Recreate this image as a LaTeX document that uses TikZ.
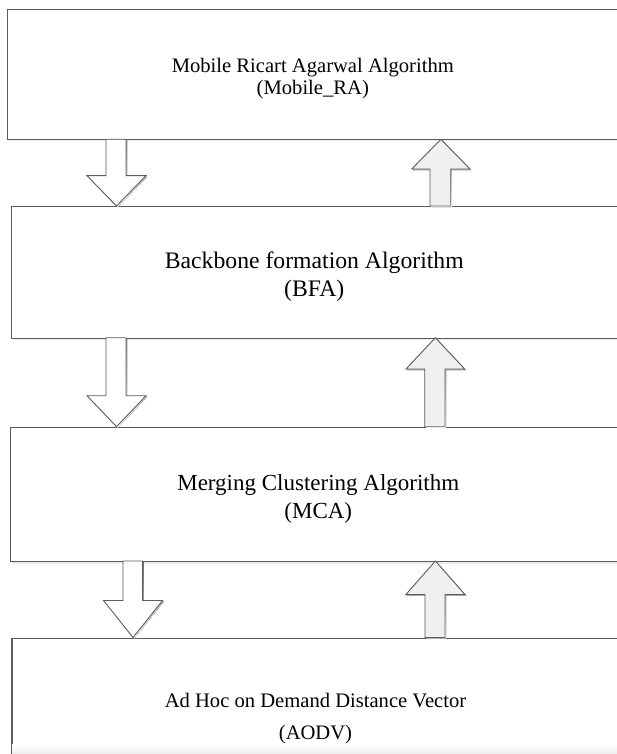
\documentclass[tikz,border=0pt]{standalone}
\usepackage{fontspec}
\setmainfont{Liberation Serif}
\definecolor{edge}{HTML}{5C5C5C}
\definecolor{upfill}{HTML}{F0F0F0}
\definecolor{shade}{HTML}{ECECEC}

% block arrow pointing down: shaft x0..x1, head x2..x3, top y, head base y, tip y
\newcommand\blockdown[7]{%
  \fill[shade] ({#1+1.2},{#5+1.2}) -- ({#2+1.2},{#5+1.2}) -- ({#2+1.2},{#6+1.2}) -- ({#4+1.2},{#6+1.2})
     -- ({(#3+#4)/2+1.2},{#7+1.2}) -- ({#3+1.2},{#6+1.2}) -- ({#1+1.2},{#6+1.2}) -- cycle;
  \draw[arrowline, fill=white] (#1,#5) -- (#2,#5) -- (#2,#6) -- (#4,#6)
     -- ({(#3+#4)/2},#7) -- (#3,#6) -- (#1,#6) -- cycle;}
% block arrow pointing up: shaft x0..x1, head x2..x3, bottom y, head base y, tip y
\newcommand\blockup[7]{%
  \fill[shade] ({#1+1.2},{#5+1.2}) -- ({#2+1.2},{#5+1.2}) -- ({#2+1.2},{#6+1.2}) -- ({#4+1.2},{#6+1.2})
     -- ({(#3+#4)/2+1.2},{#7+1.2}) -- ({#3+1.2},{#6+1.2}) -- ({#1+1.2},{#6+1.2}) -- cycle;
  \draw[arrowline, fill=upfill] (#1,#5) -- (#2,#5) -- (#2,#6) -- (#4,#6)
     -- ({(#3+#4)/2},#7) -- (#3,#6) -- (#1,#6) -- cycle;}

\begin{document}
\begin{tikzpicture}[x=1pt,y=-1pt,
  box/.style={draw=edge, line width=1.1pt, fill=white, anchor=north west, inner sep=0pt},
  boxshadow/.style={fill=shade, anchor=north west, inner sep=0pt},
  arrowline/.style={draw=edge, line width=0.9pt, line join=miter},
  small/.style={font=\fontsize{20.6}{24}\selectfont, anchor=base},
  large/.style={font=\fontsize{23.4}{28}\selectfont, anchor=base}]
\useasboundingbox (0,0) rectangle (617,754);
\clip (0,0) rectangle (617,754);
\fill[white] (0,0) rectangle (617,754);

% soft shadows behind the four stages
\node[boxshadow, minimum width=660pt, minimum height=130.3pt] at (9,11) {};
\node[boxshadow, minimum width=660pt, minimum height=131.7pt] at (13,208.3) {};
\node[boxshadow, minimum width=660pt, minimum height=134.3pt] at (12,429) {};

% the four stages
\node[box, minimum width=660pt, minimum height=130.3pt] (b1) at (7,8.7) {};
\node[box, minimum width=660pt, minimum height=131.7pt] (b2) at (11,206) {};
\node[box, minimum width=660pt, minimum height=134.3pt] (b3) at (10,426.7) {};
\node[box, minimum width=660pt, minimum height=160pt] (b4) at (11.4,637.5) {};
\shade[top color=white, bottom color=shade] (12,744) rectangle (617,754);

% labels
\node[small] (t1a) at (312.8,72.3) {Mobile Ricart Agarwal Algorithm};
\node[small] (t1b) at (312.8,95) {(Mobile\_RA)};
\node[large, font=\fontsize{23.7}{28}\selectfont] (t2a) at (314.3,268.3) {Backbone formation Algorithm};
\node[large, font=\fontsize{23.7}{28}\selectfont] (t2b) at (314.3,296) {(BFA)};
\node[large, font=\fontsize{23.0}{28}\selectfont] (t3a) at (318.3,490.7) {Merging Clustering Algorithm};
\node[large, font=\fontsize{23.0}{28}\selectfont] (t3b) at (318.3,518.3) {(MCA)};
\node[small] (t4a) at (315.5,707.6) {Ad Hoc on Demand Distance Vector};
\node[small] (t4b) at (315.5,739) {(AODV)};

% arrows between stages
\blockdown{106}{126}{87}{146}{139.3}{175.7}{206}
\blockup{430}{450.7}{411.7}{470}{206}{169}{139.3}
\blockdown{106}{126}{87}{146}{337.7}{395.7}{426.7}
\blockup{424.7}{445}{406}{464.7}{426.7}{369}{337.7}
\blockdown{123}{142.5}{103.5}{162.6}{561}{600.5}{637.5}
\blockup{425}{445}{405.8}{465}{637.5}{594.6}{561}
\end{tikzpicture}
\end{document}
